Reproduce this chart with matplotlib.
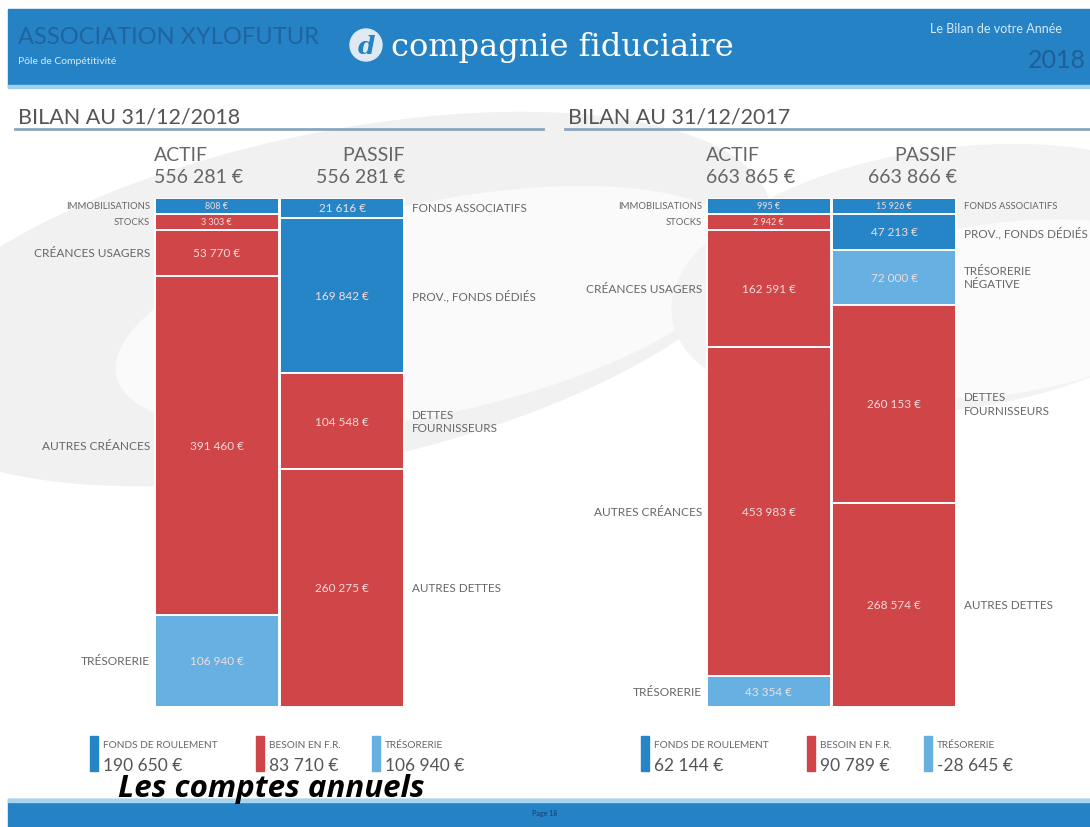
import numpy as np
import matplotlib
matplotlib.use('Agg')
from matplotlib import pyplot as plt
from matplotlib.patches import Rectangle, Circle, Ellipse

plt.rcParams['font.family'] = ['Lato', 'DejaVu Sans']

# data
actifLabels = ['IMMOBILISATIONS', 'STOCKS', 'CRÉANCES USAGERS', 'AUTRES CRÉANCES', 'TRÉSORERIE']
actif2018 = [808, 3303, 53770, 391460, 106940]
actif2017 = [995, 2942, 162591, 453983, 43354]
actifKinds = ['fr', 'bfr', 'bfr', 'bfr', 'tre']

passifLabels2018 = ['FONDS ASSOCIATIFS', 'PROV., FONDS DÉDIÉS', 'DETTES\nFOURNISSEURS', 'AUTRES DETTES']
passif2018 = [21616, 169842, 104548, 260275]
passifKinds2018 = ['fr', 'fr', 'bfr', 'bfr']

passifLabels2017 = ['FONDS ASSOCIATIFS', 'PROV., FONDS DÉDIÉS', 'TRÉSORERIE\nNÉGATIVE', 'DETTES\nFOURNISSEURS', 'AUTRES DETTES']
passif2017 = [15926, 47213, 72000, 260153, 268574]
passifKinds2017 = ['fr', 'fr', 'tre', 'bfr', 'bfr']

totalActif = [556281, 663865]
totalPassif = [556281, 663866]
titles = ['BILAN AU 31/12/2018', 'BILAN AU 31/12/2017']

legendNames = ['FONDS DE ROULEMENT', 'BESOIN EN F.R.', 'TRÉSORERIE']
legend2018 = [190650, 83710, 106940]
legend2017 = [62144, 90789, -28645]

blue = '#2585c7'
red = '#cf4548'
light = '#66b0e2'
kindColor = {'fr': blue, 'bfr': red, 'tre': light}
grey = '#666666'

W, H = 1090, 828


def euro(v):
    s = '{:,}'.format(abs(v)).replace(',', ' ') + ' €'
    return ('-' if v < 0 else '') + s


def displayHeights(values, minFrac=0.031):
    # small items get a minimum height, the others share the rest
    values = np.array(values, dtype=float)
    total = values.sum()
    small = values / total < minFrac
    disp = values.copy()
    disp[small] = minFrac * total
    rest = total - disp[small].sum()
    disp[~small] = values[~small] * rest / values[~small].sum()
    return disp, small


fig = plt.figure(figsize=(W / 100, H / 100), dpi=100)
bg = fig.add_axes([0, 0, 1, 1])
bg.set_xlim(0, W)
bg.set_ylim(H, 0)
bg.axis('off')

# background swirl
bg.add_patch(Rectangle((0, 0), W, H, color='white', zorder=0))
bg.add_patch(Ellipse((330, 300), 900, 330, angle=-12, color='#f1f1f1', zorder=0))
bg.add_patch(Ellipse((430, 310), 640, 210, angle=-12, color='#fafafa', zorder=0))
bg.add_patch(Ellipse((950, 280), 560, 260, angle=-8, color='#f3f3f3', zorder=0))
bg.add_patch(Ellipse((1000, 310), 420, 170, angle=-8, color='#fbfbfb', zorder=0))
bg.add_patch(Rectangle((0, 690), W, 110, color='white', zorder=0))

# header
bg.add_patch(Rectangle((8, 10), W, 78, color='#2482c5', zorder=1))
bg.add_patch(Rectangle((8, 86), W, 3, color='#9fd0ee', zorder=1))
bg.text(18, 44, 'ASSOCIATION XYLOFUTUR', fontsize=17, color='#1f64a0', va='baseline', zorder=2)
bg.text(18, 64, 'Pôle de Compétitivité', fontsize=7.5, color='#d8ecf8', va='baseline', zorder=2)
bg.add_patch(Circle((366, 46), 16, color='#dfe9f2', zorder=2))
bg.text(366, 47, 'd', fontsize=18, color='#2482c5', ha='center', va='center', style='italic',
        family='DejaVu Serif', fontweight='bold', zorder=3)
bg.text(391, 56, 'compagnie fiduciaire', fontsize=23, color='white', family='DejaVu Serif',
        va='baseline', zorder=2)
bg.text(930, 33, 'Le Bilan de votre Année', fontsize=9, color='#d8ecf8', va='baseline', zorder=2)
bg.text(1086, 68, '2018', fontsize=18, color='#1e5f96', ha='right', va='baseline', zorder=2)

# footer
bg.add_patch(Rectangle((8, 800), W, 28, color='#2482c5', zorder=1))
bg.add_patch(Rectangle((8, 800), W, 3, color='#a8d4ef', zorder=1))
bg.text(545, 814, 'Page 18', fontsize=5, color='#1a4f7d', ha='center', va='center',
        fontweight='bold', zorder=2)
bg.text(118, 797, 'Les comptes annuels', fontsize=22.5, color='black', fontweight='bold',
        style='italic', family='Open Sans', va='baseline', zorder=3)

panels = [
    (0, 154, actif2018, passif2018, passifLabels2018, passifKinds2018, legend2018),
    (1, 706, actif2017, passif2017, passifLabels2017, passifKinds2017, legend2017),
]
top, bottom = 199, 708
chartW = 251

for idx, x0, actif, passif, pLabels, pKinds, legendVals in panels:
    # section title and rule
    tx = 18 if idx == 0 else 568
    bg.text(tx, 124, titles[idx], fontsize=15.5, color='#555555', va='baseline', zorder=2)
    bg.plot([tx - 3, tx + 525], [130, 130], color='#8aa6bf', lw=2, zorder=2)

    ax = fig.add_axes([x0 / W, 1 - bottom / H, chartW / W, (bottom - top) / H])
    ax.set_xlim(-0.5, 1.5)
    ax.axis('off')
    ax.patch.set_alpha(0)

    total = float(sum(actif))
    ax.set_ylim(total, 0)
    pxY = total / (bottom - top)
    pxX = 2.0 / chartW

    for col, vals, labs, kinds, side in [(0, actif, actifLabels, actifKinds, 'left'),
                                         (1, passif, pLabels, pKinds, 'right')]:
        disp, small = displayHeights(vals)
        disp = disp * total / disp.sum()
        bottoms = np.concatenate([[0], np.cumsum(disp)[:-1]])
        ax.bar(col, disp, bottom=bottoms, width=0.985, color=[kindColor[k] for k in kinds],
               edgecolor='white', linewidth=1.4, align='center')
        for v, b, d, lab, s in zip(vals, bottoms, disp, labs, small):
            yc = b + d / 2
            ax.text(col, yc, euro(v), fontsize=6.5 if s else 8.5, color='#f3dcdc',
                    ha='center', va='center')
            if side == 'left':
                ax.text(-0.5 - 4 * pxX, yc, lab, fontsize=6.8 if s else 8.6, color=grey,
                        ha='right', va='center', clip_on=False)
            else:
                ax.text(1.5 + 7 * pxX, yc, lab, fontsize=6.8 if s else 8.4, color=grey,
                        ha='left', va='center', clip_on=False, linespacing=1.3)

    # column headers
    ax.text(-0.5, -38 * pxY, 'ACTIF', fontsize=14, color=grey, ha='left', va='baseline', clip_on=False)
    ax.text(-0.5, -16 * pxY, euro(totalActif[idx]), fontsize=14, color=grey, ha='left',
            va='baseline', clip_on=False)
    ax.text(1.5, -38 * pxY, 'PASSIF', fontsize=14, color=grey, ha='right', va='baseline', clip_on=False)
    ax.text(1.5, -16 * pxY, euro(totalPassif[idx]), fontsize=14, color=grey, ha='right',
            va='baseline', clip_on=False)

    # legend
    lx = [90, 256, 372] if idx == 0 else [641, 807, 924]
    for x, name, val, c in zip(lx, legendNames, legendVals, [blue, red, light]):
        bg.add_patch(Rectangle((x, 737), 8, 35, color=c, zorder=2))
        bg.text(x + 13, 748, name, fontsize=7.3, color=grey, va='baseline', zorder=2)
        bg.text(x + 13, 771, euro(val), fontsize=12.5, color='#555555', va='baseline', zorder=2)

fig.savefig('out.png', dpi=100)
plt.close(fig)
